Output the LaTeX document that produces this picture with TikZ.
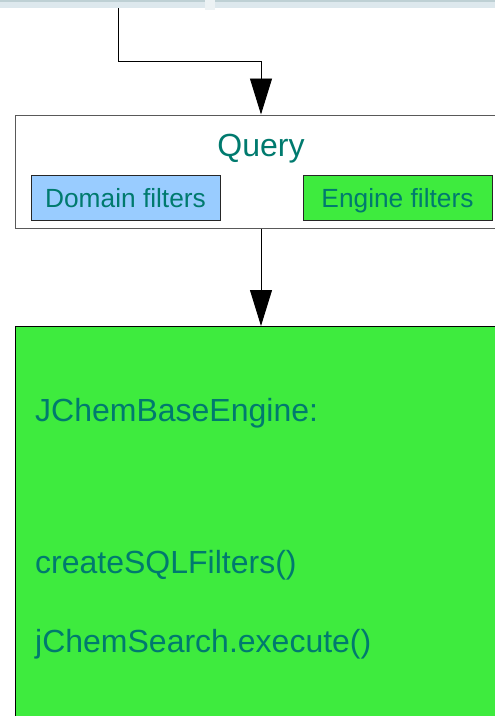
\documentclass[tikz,border=0pt]{standalone}
\usepackage{fontspec}
\setmainfont{Liberation Sans}
\usetikzlibrary{arrows.meta}
\definecolor{tealtext}{RGB}{0,122,110}
\definecolor{boxgreen}{RGB}{62,235,62}
\definecolor{boxblue}{RGB}{153,204,255}
\definecolor{stripc}{RGB}{221,232,237}
\definecolor{stripd}{RGB}{190,208,212}
\definecolor{stripe}{RGB}{236,242,244}
\begin{document}
\begin{tikzpicture}[x=1pt,y=-1pt,
  conn/.style={draw=black,line width=0.9pt,-{Triangle[width=22pt,length=36pt]}},
  boxtext/.style={text=tealtext,font=\fontsize{32}{36}\selectfont,inner sep=0pt,anchor=base west},
  filterbox/.style={draw=black!85,line width=1pt,inner sep=0pt,minimum height=45pt,minimum width=189pt,text=tealtext,font=\fontsize{26}{30}\selectfont}
]
\useasboundingbox (0,0) rectangle (495,716);
% top strip
\fill[stripe] (205,0) rectangle (215,10);
\fill[stripc] (0,0) rectangle (205,8);
\fill[stripc] (215,0) rectangle (495,8);
\fill[stripd] (0,0) rectangle (205,1.5);
\fill[stripd] (215,0) rectangle (495,1.5);
% query box
\node[draw=black!65,line width=1pt,minimum width=490pt,minimum height=113pt,anchor=north west,inner sep=0pt] (query) at (15,114.5) {};
\node[text=tealtext,font=\fontsize{32}{36}\selectfont,inner sep=0pt,anchor=base] (qlabel) at (261,156) {Query};
\node[filterbox,fill=boxblue,anchor=north west] (domain) at (30.5,175) {};
\node[text=tealtext,font=\fontsize{26.3}{30}\selectfont,inner sep=0pt,anchor=base] (dlabel) at (domain.center |- 0,207) {Domain filters};
\node[filterbox,fill=boxgreen,anchor=north west] (engine) at (302.5,175) {};
\node[text=tealtext,font=\fontsize{26.3}{30}\selectfont,inner sep=0pt,anchor=base] (elabel) at (engine.center |- 0,207) {Engine filters};
% engine box
\node[draw=black,fill=boxgreen,line width=1pt,minimum width=490pt,minimum height=400pt,anchor=north west,inner sep=0pt] (base) at (15,326) {};
\node[boxtext] (t1) at (35,421) {JChemBaseEngine:};
\node[boxtext] (t2) at (35,573) {createSQLFilters()};
\node[boxtext] (t3) at (35,652) {jChemSearch.execute()};
% connectors
\coordinate (src) at (118,8);
\draw[conn] (src) |- (261,61) -- (query.north -| 261,0);
\draw[conn] (query.south -| 261,0) -- (base.north -| 261,0);
\end{tikzpicture}
\end{document}
